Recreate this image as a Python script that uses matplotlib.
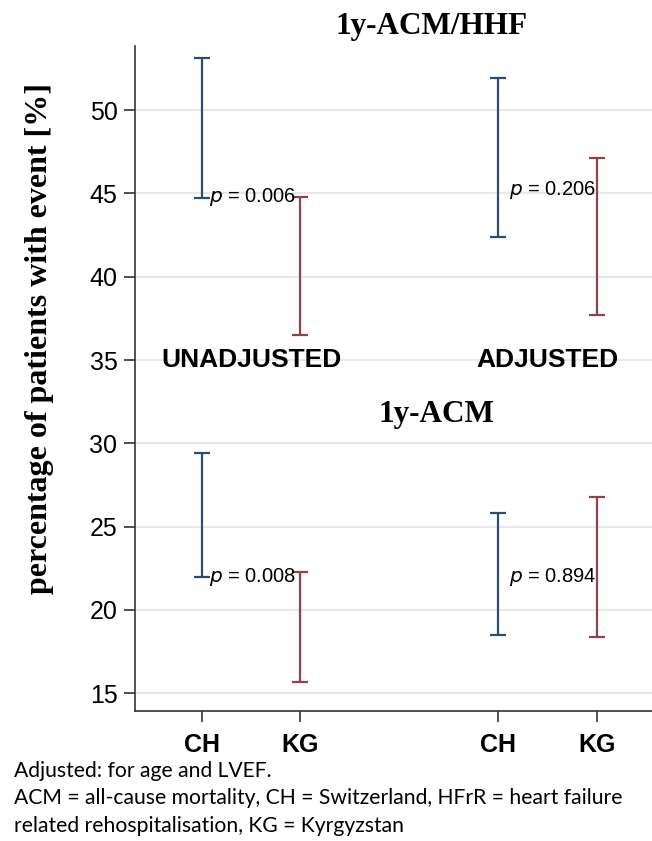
import matplotlib.pyplot as plt

# Daten (Prozent der Patienten mit Ereignis, 95%-KI)
countries = ['CH', 'KG', 'CH', 'KG']
groups = ['UNADJUSTED', 'ADJUSTED']
hhf_low = [44.7, 36.5, 42.4, 37.7]
hhf_high = [53.1, 44.8, 51.9, 47.1]
acm_low = [22.0, 15.65, 18.5, 18.35]
acm_high = [29.4, 22.25, 25.8, 26.75]
p_hhf = ['0.006', '0.206']
p_acm = ['0.008', '0.894']
p_hhf_y = [44.8, 45.2]
p_acm_y = [21.95, 21.95]

xpos = [1, 2, 4, 5]
colors = ['#2e4d6e', '#94404a', '#2e4d6e', '#94404a']
p_dx = [0.07, 0.11]

fig = plt.figure(figsize=(6.52, 8.41), dpi=100)
ax = fig.add_axes([0.2078, 0.1549, 0.7922, 0.7904])

for low, high in [(hhf_low, hhf_high), (acm_low, acm_high)]:
    for x, lo, hi, c in zip(xpos, low, high, colors):
        ax.errorbar(x, (lo + hi) / 2, yerr=(hi - lo) / 2, fmt='none',
                    ecolor=c, elinewidth=1.6, capsize=5.5, capthick=1.6)

# p-Werte rechts neben dem CH-Balken
for i, g in enumerate(groups):
    x = xpos[2 * i] + p_dx[i]
    ax.text(x, p_hhf_y[i], r'$\it{p}$ = ' + p_hhf[i], fontsize=14.5,
            family='Liberation Sans', va='center', ha='left')
    ax.text(x, p_acm_y[i], r'$\it{p}$ = ' + p_acm[i], fontsize=14.5,
            family='Liberation Sans', va='center', ha='left')
    ax.text((xpos[2 * i] + xpos[2 * i + 1]) / 2, 35, g, fontsize=19,
            fontweight='bold', family='Liberation Sans', ha='center', va='center')

ax.set_xlim(0.33, 5.56)
ax.set_ylim(13.95, 53.85)
ax.set_yticks(range(15, 51, 5))
ax.set_xticks(xpos)
ax.set_xticklabels(countries, fontsize=18, fontweight='bold', family='Liberation Sans')
for lab in ax.get_yticklabels():
    lab.set_fontsize(18)
    lab.set_family('Liberation Sans')
ax.tick_params(axis='both', length=8, width=1.2, color='#333333', pad=5)
ax.tick_params(axis='x', pad=8)
ax.grid(axis='y', color='#e8e8e8', linewidth=1.5)
ax.set_axisbelow(True)
for s in ['top', 'right']:
    ax.spines[s].set_visible(False)
for s in ['left', 'bottom']:
    ax.spines[s].set_color('#333333')
    ax.spines[s].set_linewidth(1.2)

fig.text(0.061, 0.597, 'percentage of patients with event [%]', rotation=90,
         fontsize=23, fontweight='bold', family='Liberation Serif', ha='center', va='center')
fig.text(0.662, 0.969, '1y-ACM/HHF', fontsize=22.5, fontweight='bold',
         family='Liberation Serif', ha='center', va='center')
fig.text(0.67, 0.507, '1y-ACM', fontsize=22.5, fontweight='bold',
         family='Liberation Serif', ha='center', va='center')

notes = ['Adjusted: for age and LVEF.',
         'ACM = all-cause mortality, CH = Switzerland, HFrR = heart failure',
         'related rehospitalisation, KG = Kyrgyzstan']
for i, line in enumerate(notes):
    fig.text(0.021, 1 - (771 + 27.5 * i) / 841, line, fontsize=15.2,
             family='Lato', va='center', ha='left')

plt.savefig('out.png', dpi=100)
